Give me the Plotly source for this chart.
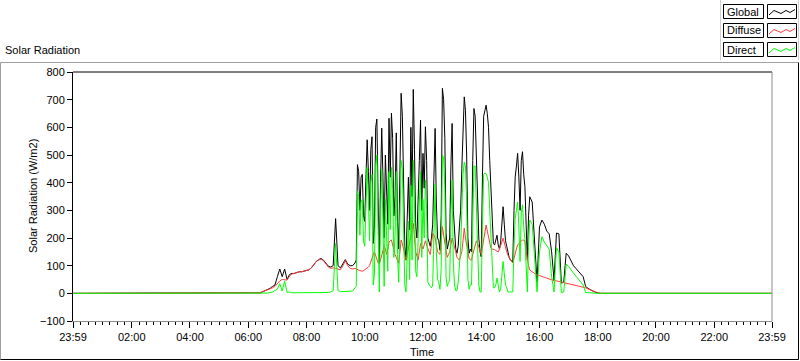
import plotly.graph_objects as go
import pandas as pd

# ---- sampling grid: 5 min (06:00-09:35), 2.5 min (09:40-15:40), 5 min (15:45-18:30) ----
night_start = "2024-01-01 23:59"
night_end = "2024-01-02 23:59"
segments = [("2024-01-02 06:00", "2024-01-02 09:35", "5min"),
            ("2024-01-02 09:40", "2024-01-02 15:40", "150s"),
            ("2024-01-02 15:45", "2024-01-02 18:30", "5min")]

# ---- data (W/m2) ----
global_rad = [
    # 06:00-09:35 (5 min)
    0, 0, 0, 0, 0, 2, 6, 10, 15, 18, 25, 30,
    60, 88, 60, 88, 50, 68, 72, 72, 75, 78, 78, 80,
    82, 85, 92, 105, 115, 122, 126, 120, 110, 98, 95, 100,
    270, 100, 92, 105, 122, 105, 100, 100,
    # 09:40-15:40 (2.5 min)
    110, 120, 465, 440, 300, 420, 430, 280, 260, 420,
    555, 440, 300, 520, 566, 180, 230, 600, 630, 350,
    110, 400, 597, 420, 200, 500, 330, 250, 633, 420,
    651, 560, 280, 350, 580, 260, 160, 470, 723, 640,
    385, 170, 120, 260, 420, 230, 600, 350, 737, 520,
    241, 200, 380, 480, 626, 300, 506, 380, 602, 480,
    200, 180, 170, 200, 250, 420, 596, 330, 200, 190,
    156, 280, 741, 700, 560, 220, 160, 180, 200, 460,
    614, 300, 200, 160, 145, 170, 240, 300, 450, 620,
    710, 660, 500, 200, 145, 160, 150, 480, 668, 640,
    500, 320, 200, 150, 132, 420, 640, 660, 680, 650,
    600, 480, 385, 260, 181, 175, 190, 210, 175, 160,
    185, 240, 313, 250, 190, 170, 145, 130, 120, 118,
    114, 300, 421, 460, 506, 420, 300, 480, 512, 430,
    385, 250, 120, 280, 349,
    # 15:45-18:30 (5 min)
    330, 200, 40, 240, 265, 250, 225, 215, 150, 48, 218, 215, 37, 40, 145,
    135, 115, 100, 90, 78, 70, 60, 25, 18, 12, 8, 4, 1,
    0, 0, 0, 0, 0, 0,
]
diffuse_rad = [
    0, 0, 0, 0, 0, 2, 6, 9, 12, 15, 20, 25,
    35, 45, 50, 50, 48, 62, 70, 72, 75, 78, 78, 80,
    82, 85, 92, 105, 115, 120, 124, 118, 108, 95, 90, 92,
    90, 88, 85, 100, 118, 100, 90, 88,
    90, 88, 85, 84, 82, 81, 80, 82, 85, 88,
    90, 95, 100, 115, 130, 140, 150, 135, 120, 110,
    105, 120, 140, 155, 170, 160, 140, 160, 185, 190,
    193, 175, 150, 140, 130, 120, 109, 150, 193, 180,
    160, 140, 120, 140, 160, 185, 210, 230, 253, 200,
    150, 135, 120, 150, 180, 170, 160, 175, 190, 175,
    160, 150, 140, 180, 217, 210, 200, 175, 150, 145,
    140, 190, 241, 210, 180, 155, 130, 140, 150, 175,
    200, 185, 170, 150, 130, 125, 120, 135, 150, 190,
    236, 200, 170, 145, 125, 122, 120, 140, 160, 175,
    190, 180, 170, 155, 140, 170, 205, 225, 247, 225,
    200, 180, 163, 160, 160, 158, 155, 152, 150, 160,
    170, 185, 199, 180, 160, 150, 138, 130, 120, 115,
    110, 130, 150, 160, 175, 180, 185, 190, 193, 192,
    190, 150, 120, 100, 84,
    78, 72, 66, 64, 62, 58, 55, 52, 48, 46, 45, 43, 40, 38, 36,
    35, 33, 31, 29, 27, 25, 23, 20, 16, 12, 8, 5, 2,
    0, 0, 0, 0, 0, 0,
]
direct_rad = [
    0, 0, 0, 0, 0, 0, 0, 0, 1, 3, 5, 10,
    15, 35, 8, 45, 3, 5, 2, 2, 2, 2, 2, 2,
    2, 2, 2, 2, 2, 2, 2, 2, 3, 3, 5, 10,
    180, 10, 6, 6, 6, 6, 6, 8,
    20, 25, 370, 350, 210, 330, 340, 190, 170, 320,
    455, 340, 190, 400, 430, 30, 70, 460, 500, 230,
    5, 270, 450, 260, 25, 340, 180, 80, 440, 230,
    455, 380, 130, 210, 440, 140, 40, 320, 480, 450,
    220, 30, 5, 120, 260, 50, 390, 120, 480, 320,
    80, 60, 250, 330, 440, 130, 340, 200, 410, 300,
    40, 30, 25, 20, 30, 210, 395, 150, 50, 40,
    15, 90, 500, 490, 380, 60, 25, 40, 45, 280,
    410, 110, 30, 10, 10, 40, 110, 160, 300, 430,
    474, 460, 330, 50, 15, 30, 30, 340, 460, 460,
    310, 140, 30, 5, 5, 250, 430, 435, 433, 420,
    400, 300, 220, 100, 20, 20, 30, 55, 25, 5,
    15, 60, 115, 70, 30, 20, 5, 5, 5, 5,
    5, 170, 270, 300, 330, 240, 115, 290, 320, 240,
    195, 100, 5, 180, 265,
    250, 120, 5, 150, 205, 185, 170, 160, 60, 5, 165, 150, 3, 5, 105,
    98, 85, 72, 62, 52, 42, 30, 3, 2, 1, 0, 0, 0,
    0, 0, 0, 0, 0, 0,
]

series_names = ["Global", "Diffuse", "Direct"]
series_colors = ["#000000", "#ff3b3b", "#00ff00"]
y_ticks = [-100, 0, 100, 200, 300, 400, 500, 600, 700, 800]
x_tick_times = ["2024-01-01 23:59", "2024-01-02 02:00", "2024-01-02 04:00",
                "2024-01-02 06:00", "2024-01-02 08:00", "2024-01-02 10:00",
                "2024-01-02 12:00", "2024-01-02 14:00", "2024-01-02 16:00",
                "2024-01-02 18:00", "2024-01-02 20:00", "2024-01-02 22:00",
                "2024-01-02 23:59"]
x_tick_labels = ["23:59", "02:00", "04:00", "06:00", "08:00", "10:00", "12:00",
                 "14:00", "16:00", "18:00", "20:00", "22:00", "23:59"]

# ---- build ----
times = []
for a, b, f in segments:
    times += list(pd.date_range(a, b, freq=f))
n = min(len(times), len(global_rad), len(diffuse_rad), len(direct_rad))
x_all = [pd.Timestamp(night_start)] + times[:n] + [pd.Timestamp(night_end)]

FONT = "Liberation Sans"
W, H = 800, 361
L, R, T, B = 73, 28, 72, 40
PW, PH = W - L - R, H - T - B


def px(xp):
    return (xp - L) / PW


def py(yp):
    return (H - B - yp) / PH


fig = go.Figure()
for name, vals, col in zip(series_names, [global_rad, diffuse_rad, direct_rad], series_colors):
    fig.add_trace(go.Scatter(x=x_all, y=[0] + vals[:n] + [0], mode="lines", name=name,
                             line=dict(color=col, width=1), showlegend=False,
                             hoverinfo="skip"))

shapes = []
shapes.append(dict(type="line", xref="paper", yref="paper", x0=0, x1=1, y0=1, y1=1,
                   line=dict(color="black", width=1)))
shapes.append(dict(type="line", xref="paper", yref="paper", x0=1, x1=1, y0=0, y1=1,
                   line=dict(color="#8c8c8c", width=1)))
ox0, ox1, oy0, oy1 = 0.5, 798.5, 62.5, 359.5
shapes.append(dict(type="line", xref="paper", yref="paper", x0=px(ox0), x1=px(ox1), y0=py(oy0), y1=py(oy0),
                   line=dict(color="#a0a0a0", width=1)))
shapes.append(dict(type="line", xref="paper", yref="paper", x0=px(ox0), x1=px(ox0), y0=py(oy0), y1=py(oy1),
                   line=dict(color="#a0a0a0", width=1)))
shapes.append(dict(type="line", xref="paper", yref="paper", x0=px(ox0), x1=px(ox1), y0=py(oy1), y1=py(oy1),
                   line=dict(color="black", width=1)))
shapes.append(dict(type="line", xref="paper", yref="paper", x0=px(ox1), x1=px(ox1), y0=py(oy0), y1=py(oy1),
                   line=dict(color="black", width=1)))
for xl in (720.5, 798.5):
    shapes.append(dict(type="line", xref="paper", yref="paper", x0=px(xl), x1=px(xl), y0=py(0), y1=py(60),
                       line=dict(color="#d0d0d0", width=1)))

annotations = []
rows = [(4.5, 18.5), (23.5, 37.5), (42.5, 56.5)]
for (y0, y1), name, col in zip(rows, series_names, series_colors):
    shapes.append(dict(type="rect", xref="paper", yref="paper", x0=px(723.5), x1=px(763.5),
                       y0=py(y1), y1=py(y0), line=dict(color="black", width=1), fillcolor="white"))
    shapes.append(dict(type="rect", xref="paper", yref="paper", x0=px(767.5), x1=px(796.5),
                       y0=py(y1), y1=py(y0), line=dict(color="black", width=1), fillcolor="white"))
    zig = [(769, y0 + 10.5), (774, y0 + 6), (781, y0 + 9), (786, y0 + 6), (790, y0 + 8), (795, y0 + 5)]
    path = "M " + " L ".join(f"{px(a):.5f},{py(b):.5f}" for a, b in zig)
    shapes.append(dict(type="path", xref="paper", yref="paper", path=path,
                       line=dict(color=col, width=1)))
    annotations.append(dict(text=name, xref="paper", yref="paper", x=px(725), y=py((y0 + y1) / 2),
                            xanchor="left", yanchor="middle", showarrow=False,
                            font=dict(family=FONT, size=11, color="black")))

annotations.append(dict(text="Solar Radiation", xref="paper", yref="paper", x=px(3), y=py(50),
                        xanchor="left", yanchor="middle", showarrow=False,
                        font=dict(family=FONT, size=11, color="black")))
annotations.append(dict(text="Solar Radiation (W/m2)", xref="paper", yref="paper", x=px(33), y=py(196),
                        xanchor="center", yanchor="middle", textangle=-90, showarrow=False,
                        font=dict(family=FONT, size=11, color="black")))
annotations.append(dict(text="Time", xref="paper", yref="paper", x=px(422), y=py(352),
                        xanchor="center", yanchor="middle", showarrow=False,
                        font=dict(family=FONT, size=11, color="black")))

fig.update_layout(
    width=W, height=H, autosize=False,
    margin=dict(l=L, r=R, t=T, b=B, pad=0),
    paper_bgcolor="white", plot_bgcolor="white",
    shapes=shapes, annotations=annotations,
    showlegend=False,
    xaxis=dict(type="date", range=[night_start, night_end],
               tickmode="array", tickvals=x_tick_times, ticktext=x_tick_labels,
               ticks="outside", ticklen=6, tickcolor="black", tickwidth=1,
               showgrid=False, zeroline=False, showline=True, linecolor="#8c8c8c", linewidth=1,
               tickfont=dict(family=FONT, size=11, color="black"),
               minor=dict(tickmode="linear", tick0="2024-01-02 00:00", dtick=900000,
                          ticks="outside", ticklen=3, tickcolor="black", showgrid=False),
               fixedrange=True),
    yaxis=dict(range=[-100, 800], tickmode="array", tickvals=y_ticks,
               ticks="outside", ticklen=5, tickcolor="black", tickwidth=1,
               showgrid=False, zeroline=False, showline=True, linecolor="black", linewidth=1,
               tickfont=dict(family=FONT, size=11, color="black"),
               fixedrange=True),
)

fig.write_html("out.html", config={"displayModeBar": False},
               post_script="document.body.style.margin='0';document.body.style.overflow='hidden';")
